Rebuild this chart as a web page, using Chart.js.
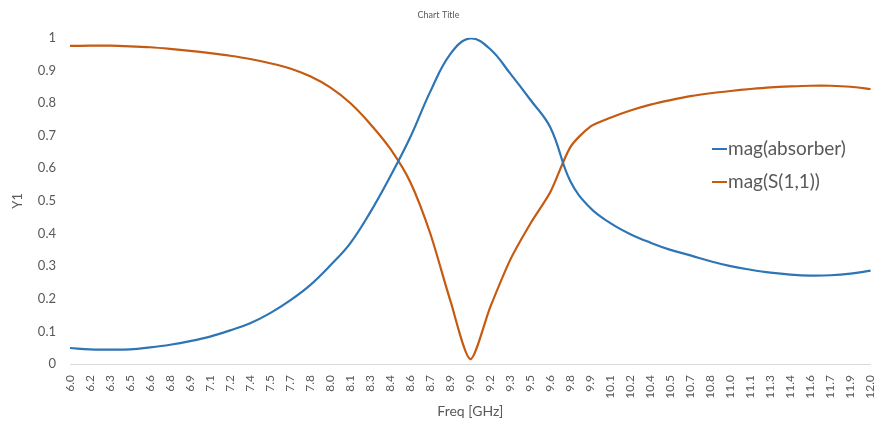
<!DOCTYPE html>
<html>
<head>
<meta charset="utf-8">
<script src="https://cdn.jsdelivr.net/npm/chart.js@4.4.1/dist/chart.umd.min.js"></script>
<style>
  html, body { margin: 0; padding: 0; background: #ffffff; }
  #wrap { width: 896px; height: 424px; }
</style>
</head>
<body>
<div id="wrap"><canvas id="myChart" width="896" height="424"></canvas></div>
<script>
// x categories (Freq in GHz), as printed under the axis
var freqLabels = ["6.0","6.2","6.3","6.5","6.6","6.8","6.9","7.1","7.2","7.4",
                  "7.5","7.7","7.8","8.0","8.1","8.3","8.4","8.6","8.7","8.9",
                  "9.0","9.2","9.3","9.5","9.6","9.8","9.9","10.1","10.2","10.4",
                  "10.5","10.7","10.8","11.0","11.1","11.3","11.4","11.6","11.7","11.9","12.0"];

// mag(absorber)
var absorber = [0.049,0.045,0.044,0.045,0.051,0.059,0.070,0.084,0.103,0.125,
                0.156,0.195,0.242,0.302,0.370,0.465,0.575,0.695,0.835,0.950,
                0.998,0.965,0.890,0.810,0.725,0.560,0.478,0.432,0.398,0.372,
                0.350,0.333,0.315,0.300,0.289,0.280,0.274,0.271,0.272,0.277,0.286];

// mag(S(1,1))
var s11 = [0.975,0.976,0.976,0.974,0.971,0.966,0.960,0.953,0.945,0.935,
           0.922,0.906,0.882,0.848,0.800,0.736,0.660,0.558,0.400,0.195,
           0.015,0.175,0.320,0.430,0.527,0.665,0.728,0.755,0.777,0.795,
           0.809,0.821,0.830,0.837,0.843,0.848,0.851,0.853,0.853,0.850,0.843];

const FONT = "Lato, 'Open Sans', sans-serif";
const TEXT_COL = '#595959';

// legend drawn inside the plot, like the original
const insideLegend = {
    id: 'insideLegend',
    afterDraw(chart){
        const ctx = chart.ctx;
        ctx.save();
        ctx.font = "19px " + FONT;
        ctx.textBaseline = 'middle';
        ctx.textAlign = 'left';
        var rowY = [149, 182];
        chart.data.datasets.forEach(function(ds, i){
            ctx.strokeStyle = ds.borderColor;
            ctx.lineWidth = 2;
            ctx.beginPath();
            ctx.moveTo(712, rowY[i]);
            ctx.lineTo(727, rowY[i]);
            ctx.stroke();
            ctx.fillStyle = TEXT_COL;
            ctx.fillText(ds.label, 728, rowY[i]);
        });
        ctx.restore();
    }
};

const CTX = document.getElementById('myChart').getContext('2d');
const CONFIG = {
    type: 'line',
    data: {
        labels: freqLabels,
        datasets: [{
            label: 'mag(absorber)',
            data: absorber,
            borderColor: '#2e75b6',
            borderWidth: 2.2,
            fill: false,
            pointRadius: 0,
            tension: 0.4
        }, {
            label: 'mag(S(1,1))',
            data: s11,
            borderColor: '#c55a11',
            borderWidth: 2.2,
            fill: false,
            pointRadius: 0,
            tension: 0.25
        }]
    },
    options: {
        responsive: false,
        animation: false,
        layout: { padding: { left: 0, right: 19, top: 0, bottom: 0 } },
        plugins: {
            legend: { display: false },
            tooltip: { enabled: false },
            title: {
                display: true,
                text: 'Chart Title',
                color: TEXT_COL,
                font: { family: FONT, size: 9, weight: 'normal' },
                padding: { top: 10, bottom: 17 }
            }
        },
        scales: {
            x: {
                offset: false,
                grid: { display: false, drawTicks: false },
                border: { display: true, color: '#d9d9d9', width: 1 },
                ticks: {
                    autoSkip: false,
                    minRotation: 90,
                    maxRotation: 90,
                    padding: 11,
                    color: TEXT_COL,
                    font: { family: FONT, size: 12 }
                },
                title: {
                    display: true,
                    text: 'Freq [GHz]',
                    color: TEXT_COL,
                    font: { family: FONT, size: 14 },
                    padding: { top: 0, bottom: 4 }
                },
                afterFit: function(scale){ scale.height = 60; }
            },
            y: {
                min: 0,
                max: 1,
                grid: { display: false, drawTicks: false },
                border: { display: false },
                ticks: {
                    stepSize: 0.1,
                    padding: 14,
                    color: TEXT_COL,
                    font: { family: FONT, size: 13 },
                    callback: function(v){ return String(Number(v.toFixed(1))); }
                },
                title: {
                    display: true,
                    text: 'Y1',
                    color: TEXT_COL,
                    font: { family: FONT, size: 13 },
                    padding: { top: 10, bottom: 0 }
                },
                afterFit: function(scale){ scale.width = 70; }
            }
        }
    },
    plugins: [insideLegend]
};

var myChart = new Chart(CTX, CONFIG);
</script>
</body>
</html>
